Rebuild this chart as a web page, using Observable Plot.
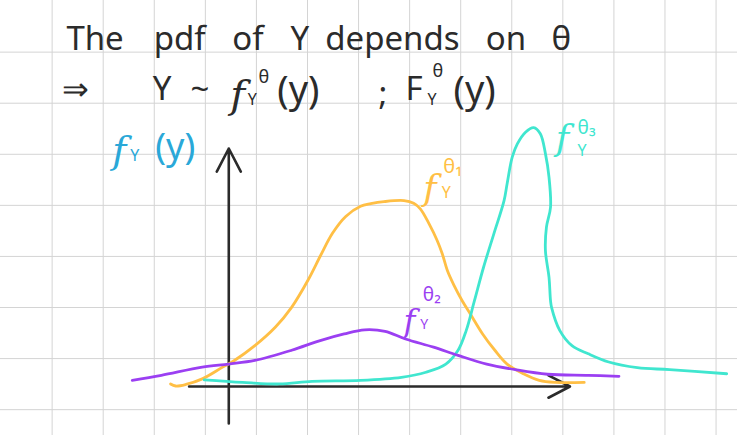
<!DOCTYPE html>
<html>
<head>
<meta charset="utf-8">
<script src="https://cdn.jsdelivr.net/npm/d3@7"></script>
<script src="https://cdn.jsdelivr.net/npm/@observablehq/plot@0.6"></script>
<style>
  html, body { margin: 0; padding: 0; background: #fff; overflow: hidden; }
  #chart svg { display: block; }
</style>
</head>
<body>
<div id="chart"></div>
<script>
// ---- Data (units: one grid cell; origin at the axes' crossing) ----
const theta1 = [ // f_Y^θ1 (orange)
  [-1.14,0.05],[-1.04,0.01],[-0.84,0.04],[-0.52,0.15],[-0.12,0.38],[0.11,0.51],
  [0.51,0.80],[0.91,1.16],[1.23,1.55],[1.55,2.08],[1.80,2.57],[2.03,3.00],
  [2.29,3.33],[2.58,3.53],[2.78,3.58],[3.04,3.62],[3.43,3.64],[3.62,3.59],
  [3.75,3.48],[3.92,3.19],[4.08,2.86],[4.18,2.60],[4.28,2.27],[4.41,1.98],
  [4.57,1.68],[4.73,1.42],[4.97,1.03],[5.21,0.71],[5.45,0.44],[5.77,0.25],
  [6.08,0.12],[6.40,0.08],[6.96,0.08]
];
const theta2 = [ // f_Y^θ2 (purple)
  [-1.89,0.12],[-1.32,0.22],[-0.52,0.38],[0.00,0.44],[0.51,0.51],[1.23,0.71],
  [1.79,0.90],[2.26,1.03],[2.66,1.11],[3.06,1.08],[3.46,0.93],[4.01,0.77],
  [4.49,0.61],[5.05,0.44],[5.61,0.33],[6.24,0.24],[7.04,0.22],[7.64,0.20]
];
const theta3 = [ // f_Y^θ3 (turquoise)
  [-0.48,0.13],[0.27,0.08],[0.99,0.05],[1.63,0.10],[2.58,0.12],[3.38,0.18],
  [3.86,0.28],[4.25,0.44],[4.49,0.71],[4.65,1.10],[4.81,1.68],[4.99,2.34],
  [5.19,2.99],[5.39,3.64],[5.45,3.97],[5.55,4.49],[5.65,4.75],[5.81,4.98],
  [5.97,5.07],[6.10,4.95],[6.20,4.56],[6.27,4.10],[6.30,3.51],[6.22,3.12],
  [6.20,2.66],[6.27,2.14],[6.30,1.68],[6.32,1.55],[6.48,1.10],[6.72,0.80],
  [7.04,0.64],[7.44,0.48],[8.00,0.37],[8.63,0.33],[9.75,0.25]
];

// ---- Annotations (handwritten text, in data units) ----
const INK = "#2b2b2b", ORANGE = "#ffbf45", PURPLE = "#9b3ff2", TURQ = "#40e6cf", BLUE = "#2aa8d8";
const notes = [
  // line 1
  {t:"The", u:-3.18, v:6.80, s:33, c:INK},
  {t:"pdf", u:-1.47, v:6.80, s:33, c:INK},
  {t:"of", u:0.07, v:6.80, s:33, c:INK},
  {t:"Y", u:1.21, v:6.80, s:33, c:INK},
  {t:"depends", u:1.89, v:6.80, s:33, c:INK},
  {t:"on", u:5.03, v:6.80, s:33, c:INK},
  {t:"θ", u:6.32, v:6.80, s:33, c:INK},
  // line 2
  {t:"⇒", u:-3.26, v:5.81, s:32, c:INK},
  {t:"Y", u:-1.49, v:5.81, s:33, c:INK},
  {t:"~", u:-0.75, v:5.81, s:33, c:INK},
  {t:"f", u:0.03, v:5.70, s:40, c:INK, i:true},
  {t:"Y", u:0.37, v:5.62, s:16, c:INK},
  {t:"θ", u:0.58, v:6.05, s:18, c:INK},
  {t:"(y)", u:0.95, v:5.78, s:38, c:INK},
  {t:";", u:2.93, v:5.72, s:33, c:INK},
  {t:"F", u:3.46, v:5.81, s:33, c:INK},
  {t:"Y", u:3.89, v:5.62, s:16, c:INK},
  {t:"θ", u:3.99, v:6.17, s:18, c:INK},
  {t:"(y)", u:4.40, v:5.78, s:38, c:INK},
  // y-axis label
  {t:"f", u:-2.28, v:4.62, s:38, c:BLUE, i:true},
  {t:"Y", u:-1.93, v:4.52, s:16, c:BLUE},
  {t:"(y)", u:-1.44, v:4.68, s:36, c:BLUE},
  // curve labels
  {t:"f", u:3.81, v:3.87, s:36, c:ORANGE, i:true},
  {t:"Y", u:4.17, v:3.80, s:16, c:ORANGE},
  {t:"θ₁", u:4.20, v:4.31, s:20, c:ORANGE},
  {t:"f", u:3.42, v:1.27, s:32, c:PURPLE, i:true},
  {t:"Y", u:3.75, v:1.22, s:14, c:PURPLE},
  {t:"θ₂", u:3.80, v:1.80, s:19, c:PURPLE},
  {t:"f", u:6.40, v:4.85, s:36, c:TURQ, i:true},
  {t:"Y", u:6.83, v:4.62, s:16, c:TURQ},
  {t:"θ₃", u:6.83, v:5.07, s:19, c:TURQ}
];

// ---- Grid (notebook squares) ----
const gridU = d3.range(1, 15).map(k => k - 4.459);
const gridV = d3.range(1, 9).map(k => 7.547 - k);

const W = 737, H = 435;
const chart = Plot.plot({
  width: W, height: H,
  margin: 0,
  style: {background: "#fff", overflow: "hidden"},
  x: {axis: null, domain: [-4.470, 9.961]},
  y: {axis: null, domain: [-0.959, 7.558]},
  color: {type: "identity"},
  marks: [
    Plot.ruleX(gridU, {stroke: "#d4d4d4", strokeWidth: 1}),
    Plot.ruleY(gridV, {stroke: "#d4d4d4", strokeWidth: 1}),
    Plot.arrow([{x1:0, y1:-0.724, x2:0, y2:4.66}], {
      x1:"x1", y1:"y1", x2:"x2", y2:"y2",
      stroke: INK, strokeWidth: 2.6, headLength: 15, headAngle: 55
    }),
    Plot.arrow([{x1:-0.777, y1:0, x2:6.681, y2:0}], {
      x1:"x1", y1:"y1", x2:"x2", y2:"y2",
      stroke: INK, strokeWidth: 2.6, headLength: 14, headAngle: 55
    }),
    Plot.line(theta1, {x: d => d[0], y: d => d[1], stroke: ORANGE, strokeWidth: 2.8, curve: "catmull-rom"}),
    Plot.line(theta3, {x: d => d[0], y: d => d[1], stroke: TURQ, strokeWidth: 2.8, curve: "catmull-rom"}),
    Plot.line(theta2, {x: d => d[0], y: d => d[1], stroke: PURPLE, strokeWidth: 2.8, curve: "catmull-rom"}),
    Plot.text(notes.filter(d => !d.i), {
      x: "u", y: "v", text: "t", fill: "c", fontSize: "s",
      textAnchor: "start", lineAnchor: "middle",
      fontFamily: "'Noto Sans', sans-serif"
    }),
    Plot.text(notes.filter(d => d.i), {
      x: "u", y: "v", text: "t", fill: "c", fontSize: "s",
      textAnchor: "start", lineAnchor: "middle",
      fontFamily: "'DejaVu Serif', serif", fontStyle: "italic"
    })
  ]
});
document.getElementById("chart").appendChild(chart);
</script>
</body>
</html>
